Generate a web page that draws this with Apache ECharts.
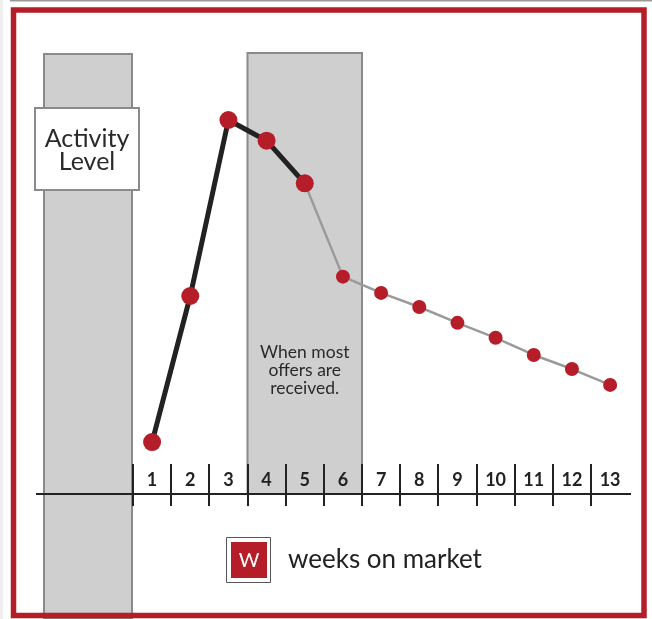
<!DOCTYPE html>
<html><head><meta charset="utf-8">
<script src="https://cdn.jsdelivr.net/npm/echarts@6/dist/echarts.min.js"></script>
<style>html,body{margin:0;padding:0;background:#fff}#c{width:652px;height:619px}</style>
</head><body><div id="c"></div>
<script>
// ---- data ----
const weeks = ['1','2','3','4','5','6','7','8','9','10','11','12','13'];
const activity = [11.8, 45.0, 85.0, 80.3, 70.6, 49.4, 45.7, 42.5, 38.9, 35.5, 31.6, 28.4, 24.8];
const boldUntil = 5;            // weeks 1..5 drawn with the heavy line
const offerBand = ['4', '6'];   // shaded weeks
const yLabel = 'Activity\nLevel';
const bandNote = 'When most\noffers are\nreceived.';
const xTitle = 'weeks on market';
const logoLetter = 'W';

const RED = '#b51d28';
const FONT = 'Lato, "Open Sans", sans-serif';

const early = activity.map((v, i) => i < boldUntil ? v : '-');
const late = activity.map((v, i) => i >= boldUntil - 1 ? v : '-');

const chart = echarts.init(document.getElementById('c'), null, {renderer: 'canvas'});
chart.setOption({
  animation: false,
  backgroundColor: '#fff',
  grid: {left: 133, right: 22.8, top: 54, bottom: 125, containLabel: false},
  xAxis: {
    type: 'category', data: weeks, boundaryGap: true,
    axisLine: {show: false},
    axisTick: {show: false},
    axisLabel: {inside: true, margin: 5, color: '#222', fontSize: 18, fontWeight: 'bold', fontFamily: FONT, verticalAlign: 'bottom'},
    splitLine: {show: false}
  },
  yAxis: {type: 'value', min: 0, max: 100, show: false},
  series: [
    {
      type: 'custom', silent: true, clip: false, z: 3,
      data: weeks.map(w => [w, 0]),
      encode: {x: 0, y: 1},
      renderItem: function (params, api) {
        const p = api.coord([api.value(0), 0]);
        const bw = api.size([1, 0])[0];
        const x = Math.round(p[0] - bw / 2);
        return {type: 'line', shape: {x1: x, y1: p[1] - 30, x2: x, y2: p[1] + 12},
                style: {stroke: '#222', lineWidth: 2}};
      }
    },
    {
      type: 'line', data: late, z: 4, silent: true,
      lineStyle: {color: '#9a9a9a', width: 2.5},
      symbol: 'circle',
      symbolSize: function (v, p) { return p.dataIndex === boldUntil - 1 ? 0 : 14; },
      itemStyle: {color: RED}
    },
    {
      type: 'line', data: early, z: 5, silent: true,
      lineStyle: {color: '#222', width: 5},
      symbol: 'circle', symbolSize: 18,
      itemStyle: {color: RED}
    }
  ]
});

// decorations positioned through the axes
const x4 = chart.convertToPixel({xAxisIndex: 0}, offerBand[0]);
const x5 = chart.convertToPixel({xAxisIndex: 0}, weeks[weeks.indexOf(offerBand[0]) + 1]);
const x6 = chart.convertToPixel({xAxisIndex: 0}, offerBand[1]);
const bw = x5 - x4;
const axisY = chart.convertToPixel({yAxisIndex: 0}, 0);
const bandL = x4 - bw / 2, bandR = x6 + bw / 2;

chart.setOption({
  graphic: [
    {type: 'rect', z: -10, shape: {x: 0, y: 0, width: 3, height: 619}, style: {fill: '#efefef'}},
    {type: 'line', z: -10, shape: {x1: 10, y1: 0.75, x2: 652, y2: 0.75}, style: {stroke: '#999', lineWidth: 1.5}},
    // left shaded column
    {type: 'rect', z: -5, shape: {x: 44, y: 54, width: 88, height: 565}, style: {fill: '#cfcfcf', stroke: '#8a8a8a', lineWidth: 2}},
    // shaded offer band
    {type: 'rect', z: -5, shape: {x: bandL, y: 53, width: bandR - bandL, height: axisY - 53}, style: {fill: '#cfcfcf', stroke: '#8a8a8a', lineWidth: 2}},
    {type: 'text', z: 1, x: (bandL + bandR) / 2, y: 370,
      style: {text: bandNote, fill: '#2a2a2a', font: '17.5px ' + FONT, align: 'center', verticalAlign: 'middle', lineHeight: 18}},
    // axis line
    {type: 'line', z: 2, shape: {x1: 36, y1: axisY, x2: 631, y2: axisY}, style: {stroke: '#222', lineWidth: 2}},
    // activity level box
    {type: 'rect', z: 1, shape: {x: 35, y: 108, width: 104, height: 82}, style: {fill: '#fff', stroke: '#8a8a8a', lineWidth: 2}},
    {type: 'text', z: 2, x: 87, y: 150,
      style: {text: yLabel, fill: '#2a2a2a', font: '25px ' + FONT, align: 'center', verticalAlign: 'middle', lineHeight: 23}},
    // title with logo
    {type: 'rect', z: 1, shape: {x: 226.5, y: 537.5, width: 44, height: 45}, style: {fill: '#fff', stroke: '#555', lineWidth: 1}},
    {type: 'rect', z: 2, shape: {x: 231, y: 542, width: 36, height: 36}, style: {fill: RED}},
    {type: 'text', z: 3, x: 249, y: 561,
      style: {text: logoLetter, fill: '#fff', font: '20px ' + FONT, align: 'center', verticalAlign: 'middle'}},
    {type: 'text', z: 3, x: 288, y: 560,
      style: {text: xTitle, fill: '#222', font: '26px ' + FONT, align: 'left', verticalAlign: 'middle'}},
    // red frame
    {type: 'rect', z: 100, shape: {x: 13.5, y: 10, width: 630.5, height: 605.5}, style: {fill: 'none', stroke: RED, lineWidth: 5.5}}
  ]
});
</script>
</body></html>
